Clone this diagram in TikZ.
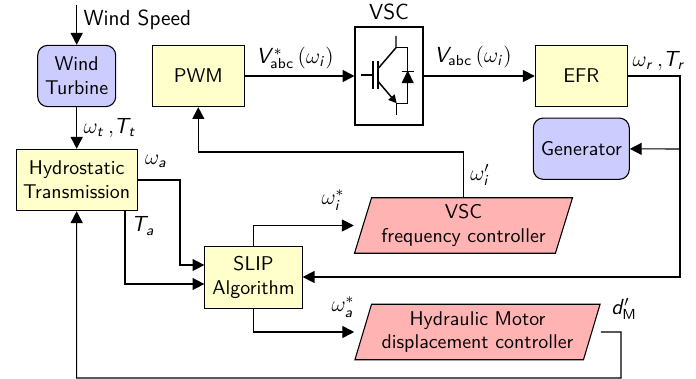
\documentclass[tikz,border=0pt]{standalone}
\usetikzlibrary{calc,arrows.meta,shapes.geometric}
\definecolor{blockyellow}{RGB}{255,255,204}
\definecolor{blockblue}{RGB}{204,204,255}
\definecolor{blockred}{RGB}{255,179,179}
\DeclareSymbolFont{sfletters}{OT1}{cmss}{m}{sl}
\DeclareMathSymbol{V}{\mathalpha}{sfletters}{`V}
\DeclareMathSymbol{T}{\mathalpha}{sfletters}{`T}
\DeclareMathSymbol{d}{\mathalpha}{sfletters}{`d}
\DeclareMathSymbol{i}{\mathalpha}{sfletters}{`i}
\DeclareMathSymbol{a}{\mathalpha}{sfletters}{`a}
\DeclareMathSymbol{t}{\mathalpha}{sfletters}{`t}
\DeclareMathSymbol{r}{\mathalpha}{sfletters}{`r}
\tikzset{
	blocktext/.style={font=\fontsize{10.95}{13}\selectfont\sffamily},
	yblock/.style={draw, fill=blockyellow, blocktext, inner sep=0pt, align=center, minimum height=33.7pt},
	bblock/.style={draw, fill=blockblue, blocktext, rounded corners=5.5pt, inner sep=0pt, align=center, minimum height=33.7pt},
	rblock/.style={draw, fill=blockred, blocktext, trapezium, trapezium left angle=70, trapezium right angle=110,
		trapezium stretches=true, inner sep=0pt, align=center, minimum height=30.5pt},
	sig/.style={-{Triangle[length=6.5pt,width=6.6pt]}},
	lbl/.style={inner sep=0pt, font=\fontsize{12}{14}\selectfont\sffamily}
}
\begin{document}
\begin{tikzpicture}[x=0.55pt, y=-0.55pt, line width=0.6pt]
	\useasboundingbox (0, 0) rectangle (696, 379);
	%%%%% BLOCKS %%%%%
	\node[bblock, minimum width=42.9pt] (turbine) at (76.7, 76) {Wind\\Turbine};
	\node[bblock, minimum width=52.8pt] (generator) at (581.3, 148.7) {Generator};
	\node[yblock, minimum width=50.6pt] (pwm) at (198.3, 76) {PWM};
	\node[yblock, minimum width=50.6pt] (efr) at (581.3, 76) {EFR};
	\node[yblock, minimum width=66.7pt] (hydro) at (76.7, 180) {Hydrostatic\\Transmission};
	\node[yblock, minimum width=53.5pt] (slip) at (253.5, 277.5) {SLIP\\Algorithm};
	\node[draw, line width=1pt, inner sep=0pt, minimum width=37pt, minimum height=53.5pt] (vsc) at (389, 76) {};
	\node[rblock, minimum width=120pt] (vscctrl) at (463.5, 225.5) {VSC\\frequency controller};
	\node[rblock, minimum width=135pt] (motorctrl) at (477.5, 332) {Hydraulic Motor\\displacement controller};
	
	%%%%% SWITCH %%%%%
	\draw (360.7, 75) -- (372.7, 75);
	\draw[line width=1pt] (372.7, 60.7) -- (372.7, 89.3);
	\draw[line width=1pt] (378.3, 60.7) -- (378.3, 89.3);
	\draw[line width=0.8pt] (396, 36) -- (396, 47.7) -- (378.3, 68.3);
	\draw[line width=0.8pt, -{Triangle[length=4.5pt,width=4.5pt]}] (378.3, 81.7) -- (396.7, 103.3);
	\draw[line width=0.8pt] (396.7, 115) -- (396.7, 103.3) -- (407.7, 103.3) -- (407.7, 47.7) -- (396, 47.7);
	\draw[fill=black] (407.7, 71.7) -- (413, 82.7) -- (402.4, 82.7) -- cycle;
	\draw[line width=0.8pt] (401.7, 71.7) -- (414, 71.7);
	
	%%%%% LABELS %%%%%
	\node[lbl, anchor=west] (windlabel) at (83, 20) {Wind Speed};
	\node[lbl] (vsclabel) at (389, 12) {VSC};
	\node[lbl] (pwmout) at (295, 58) {$V^{*}_{\mathsf{abc}}\left(\omega_i\right)$};
	\node[lbl] (vscout) at (473, 57) {$V_{\mathsf{abc}}\left(\omega_i\right)$};
	\node[lbl] (efrout) at (659, 61) {$\omega_r{\,,}T_r$};
	\node[lbl, anchor=west] (turbout) at (83, 128) {$\omega_t{\,,}T_t$};
	\node[lbl] (wa) at (156, 161) {$\omega_a$};
	\node[lbl] (ta) at (143, 226) {$T_a$};
	\node[lbl] (wiprime) at (480, 175) {$\omega'_i$};
	\node[lbl] (wistar) at (333, 200) {$\omega^{*}_i$};
	\node[lbl] (wastar) at (343, 307) {$\omega^{*}_a$};
	\node[lbl] (dm) at (624, 309) {$d'_{\mathsf{M}}$};
	
	%%%%% CONNECTORS %%%%%
	\coordinate (windin) at (turbine.north |- 0, 5);
	\coordinate (efrturn) at (680, 76);
	\coordinate (gentap) at (680, 149);
	\coordinate (motorout) at (motorctrl.east -| motorctrl.top right corner);
	\coordinate (motorturn) at (621, 332);
	\coordinate (bottomturn) at (621, 378);
	
	\draw[sig] (windin) -- (turbine);
	\draw[sig] (turbine) -- (hydro);
	\draw[sig] (pwm) -- (vsc);
	\draw[sig] (vsc) -- (efr);
	\draw (efr) -- (efrturn) -- (gentap);
	\draw[sig] (gentap) -- (generator);
	\draw[sig] (gentap) |- (slip.east |- 0, 277);
	\draw[sig] (vscctrl.north) |- (pwm.south |- 0, 152) -- (pwm.south);
	\draw[sig] (hydro.east |- 0, 180) -| (180, 265) -- (slip.west |- 0, 265);
	\draw[sig] (125, 0 |- hydro.south) |- (slip.west |- 0, 284);
	\draw[sig] (slip.north) |- (vscctrl.west -| vscctrl.bottom left corner);
	\draw[sig] (slip.south) |- (motorctrl.west -| motorctrl.bottom left corner);
	\draw[sig] (motorout) -- (motorturn) -- (bottomturn) -| (hydro.south);
\end{tikzpicture}
\end{document}
